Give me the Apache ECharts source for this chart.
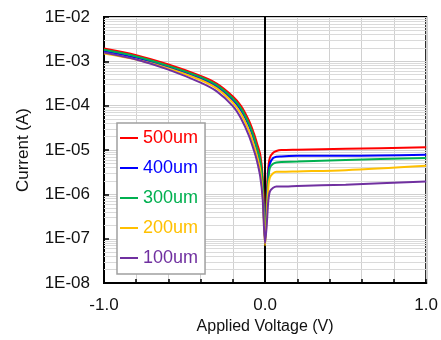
<!DOCTYPE html>
<html>
<head>
<meta charset="utf-8">
<script src="https://cdn.jsdelivr.net/npm/echarts@6/dist/echarts.min.js"></script>
<style>
  html, body { margin: 0; padding: 0; background: #fff; }
  #chart { width: 441px; height: 340px; }
</style>
</head>
<body>
<div id="chart"></div>
<script>
// applied voltage (V)
const voltage = [-1.0, -0.8, -0.6, -0.4, -0.3, -0.2, -0.15, -0.1, -0.07, -0.05, -0.03, -0.015, 0.0,
                 0.01, 0.02, 0.03, 0.05, 0.07, 0.1, 0.2, 0.5, 1.0];

// current (A)
const i500 = [1.95e-3, 1.38e-3, 8.5e-4, 4.7e-4, 3.16e-4, 1.62e-4, 1.0e-4, 4.6e-5, 2.4e-5, 1.41e-5, 7.9e-6, 2.5e-6, 1.0e-7,
              1.0e-6, 4.0e-6, 6.8e-6, 8.7e-6, 9.5e-6, 1.0e-5, 1.02e-5, 1.07e-5, 1.15e-5];
const i400 = [1.7e-3, 1.2e-3, 7.4e-4, 4.1e-4, 2.7e-4, 1.35e-4, 7.9e-5, 3.5e-5, 1.74e-5, 9.8e-6, 5.0e-6, 1.41e-6, 8.9e-8,
              6.3e-7, 2.8e-6, 5.0e-6, 6.6e-6, 7.1e-6, 7.2e-6, 7.4e-6, 7.4e-6, 7.8e-6];
const i300 = [1.82e-3, 1.29e-3, 7.9e-4, 4.4e-4, 2.9e-4, 1.45e-4, 8.7e-5, 3.9e-5, 2.0e-5, 1.12e-5, 6.0e-6, 1.78e-6, 8.9e-8,
              5.0e-7, 2.24e-6, 4.0e-6, 4.9e-6, 5.25e-6, 5.4e-6, 5.5e-6, 6.0e-6, 6.6e-6];
const i200 = [1.51e-3, 1.1e-3, 6.9e-4, 3.8e-4, 2.45e-4, 1.17e-4, 6.6e-5, 2.75e-5, 1.32e-5, 7.4e-6, 3.5e-6, 1.0e-6, 7.1e-8,
              3.2e-7, 1.41e-6, 2.4e-6, 3.0e-6, 3.24e-6, 3.24e-6, 3.3e-6, 3.5e-6, 4.4e-6];
const i100 = [1.58e-3, 1.1e-3, 6.5e-4, 3.3e-4, 2.1e-4, 9.8e-5, 5.2e-5, 2.1e-5, 1.0e-5, 5.6e-6, 2.5e-6, 7.9e-7, 7.9e-8,
              2.0e-7, 7.1e-7, 1.17e-6, 1.41e-6, 1.51e-6, 1.51e-6, 1.55e-6, 1.66e-6, 1.95e-6];

const seriesNames = ['500um', '400um', '300um', '200um', '100um'];
const seriesData = [i500, i400, i300, i200, i100];
const seriesColors = ['#ff0000', '#0000ff', '#00b050', '#ffc000', '#7030a0'];

// minor log gridlines (2..9 x 10^k)
const decades = [-8, -7, -6, -5, -4, -3];
const mantissas = [2, 3, 4, 5, 6, 7, 8, 9];

const font = 'Liberation Sans, Arial, sans-serif';

const minorLines = [];
decades.forEach(d => mantissas.forEach(m => minorLines.push({ yAxis: m * Math.pow(10, d) })));

const chart = echarts.init(document.getElementById('chart'));

const series = seriesNames.map((name, k) => ({
    name,
    type: 'line',
    z: 3,
    smooth: 0.3,
    showSymbol: false,
    lineStyle: { width: 2, color: seriesColors[k] },
    itemStyle: { color: seriesColors[k] },
    data: voltage.map((v, j) => [v, seriesData[k][j]])
}));

// gridlines and the black line at 0 V, kept under the curves and legend
series.push({
    name: 'grid',
    type: 'line',
    z: 1,
    data: [],
    markLine: {
        z: 1,
        silent: true,
        symbol: 'none',
        precision: 12,
        label: { show: false },
        lineStyle: { color: '#dadada', width: 1, type: 'solid' },
        data: minorLines
    }
});
series.push({
    name: 'zero',
    type: 'line',
    z: 2,
    data: [],
    markLine: {
        z: 2,
        silent: true,
        symbol: 'none',
        label: { show: false },
        lineStyle: { color: '#000', width: 2, type: 'solid' },
        data: [{ xAxis: 0 }]
    }
});

const option = {
    animation: false,
    grid: {
        left: 104, right: 13, top: 17, bottom: 51,
        show: true, borderColor: '#000', borderWidth: 2
    },
    legend: {
        z: 10,
        orient: 'vertical',
        left: 117, top: 123,
        padding: [6, 7, 7, 3],
        backgroundColor: '#fff',
        borderColor: '#a0a0a0',
        borderWidth: 1.5,
        borderRadius: 0,
        icon: 'rect',
        itemWidth: 18, itemHeight: 2,
        itemGap: 12,
        textStyle: { fontFamily: font, fontSize: 18, lineHeight: 18 },
        data: seriesNames.map((n, k) => ({ name: n, textStyle: { color: seriesColors[k] } }))
    },
    xAxis: {
        type: 'value',
        min: -1, max: 1, interval: 0.2,
        name: 'Applied Voltage (V)',
        nameLocation: 'middle',
        nameGap: 34,
        nameTextStyle: { fontFamily: font, fontSize: 16, color: '#111' },
        axisLine: { onZero: false, lineStyle: { color: '#000', width: 2 } },
        axisTick: { inside: true, length: 4, lineStyle: { color: '#000', width: 1.5 } },
        axisLabel: {
            margin: 14,
            fontFamily: font, fontSize: 17, color: '#111',
            formatter: v => Math.abs(v - Math.round(v)) < 1e-6 ? v.toFixed(1) : ''
        },
        splitLine: { show: true, lineStyle: { color: '#d0d0d0', width: 1 } }
    },
    yAxis: {
        type: 'log',
        logBase: 10,
        min: 1e-8, max: 1e-2,
        splitNumber: 6,
        name: 'Current (A)',
        nameLocation: 'middle',
        nameRotate: 90,
        nameGap: 72,
        nameTextStyle: { fontFamily: font, fontSize: 17, color: '#111' },
        axisLine: { onZero: false, lineStyle: { color: '#000', width: 2 } },
        axisTick: { inside: true, length: 5, lineStyle: { color: '#000', width: 1.5 } },
        axisLabel: {
            margin: 14,
            fontFamily: font, fontSize: 17, color: '#111',
            formatter: v => {
                const e = Math.round(Math.log10(v));
                return '1E' + (e < 0 ? '-' : '+') + String(Math.abs(e)).padStart(2, '0');
            }
        },
        splitLine: { show: true, lineStyle: { color: '#cfcfcf', width: 1 } }
    },
    series
};

chart.setOption(option);
</script>
</body>
</html>
